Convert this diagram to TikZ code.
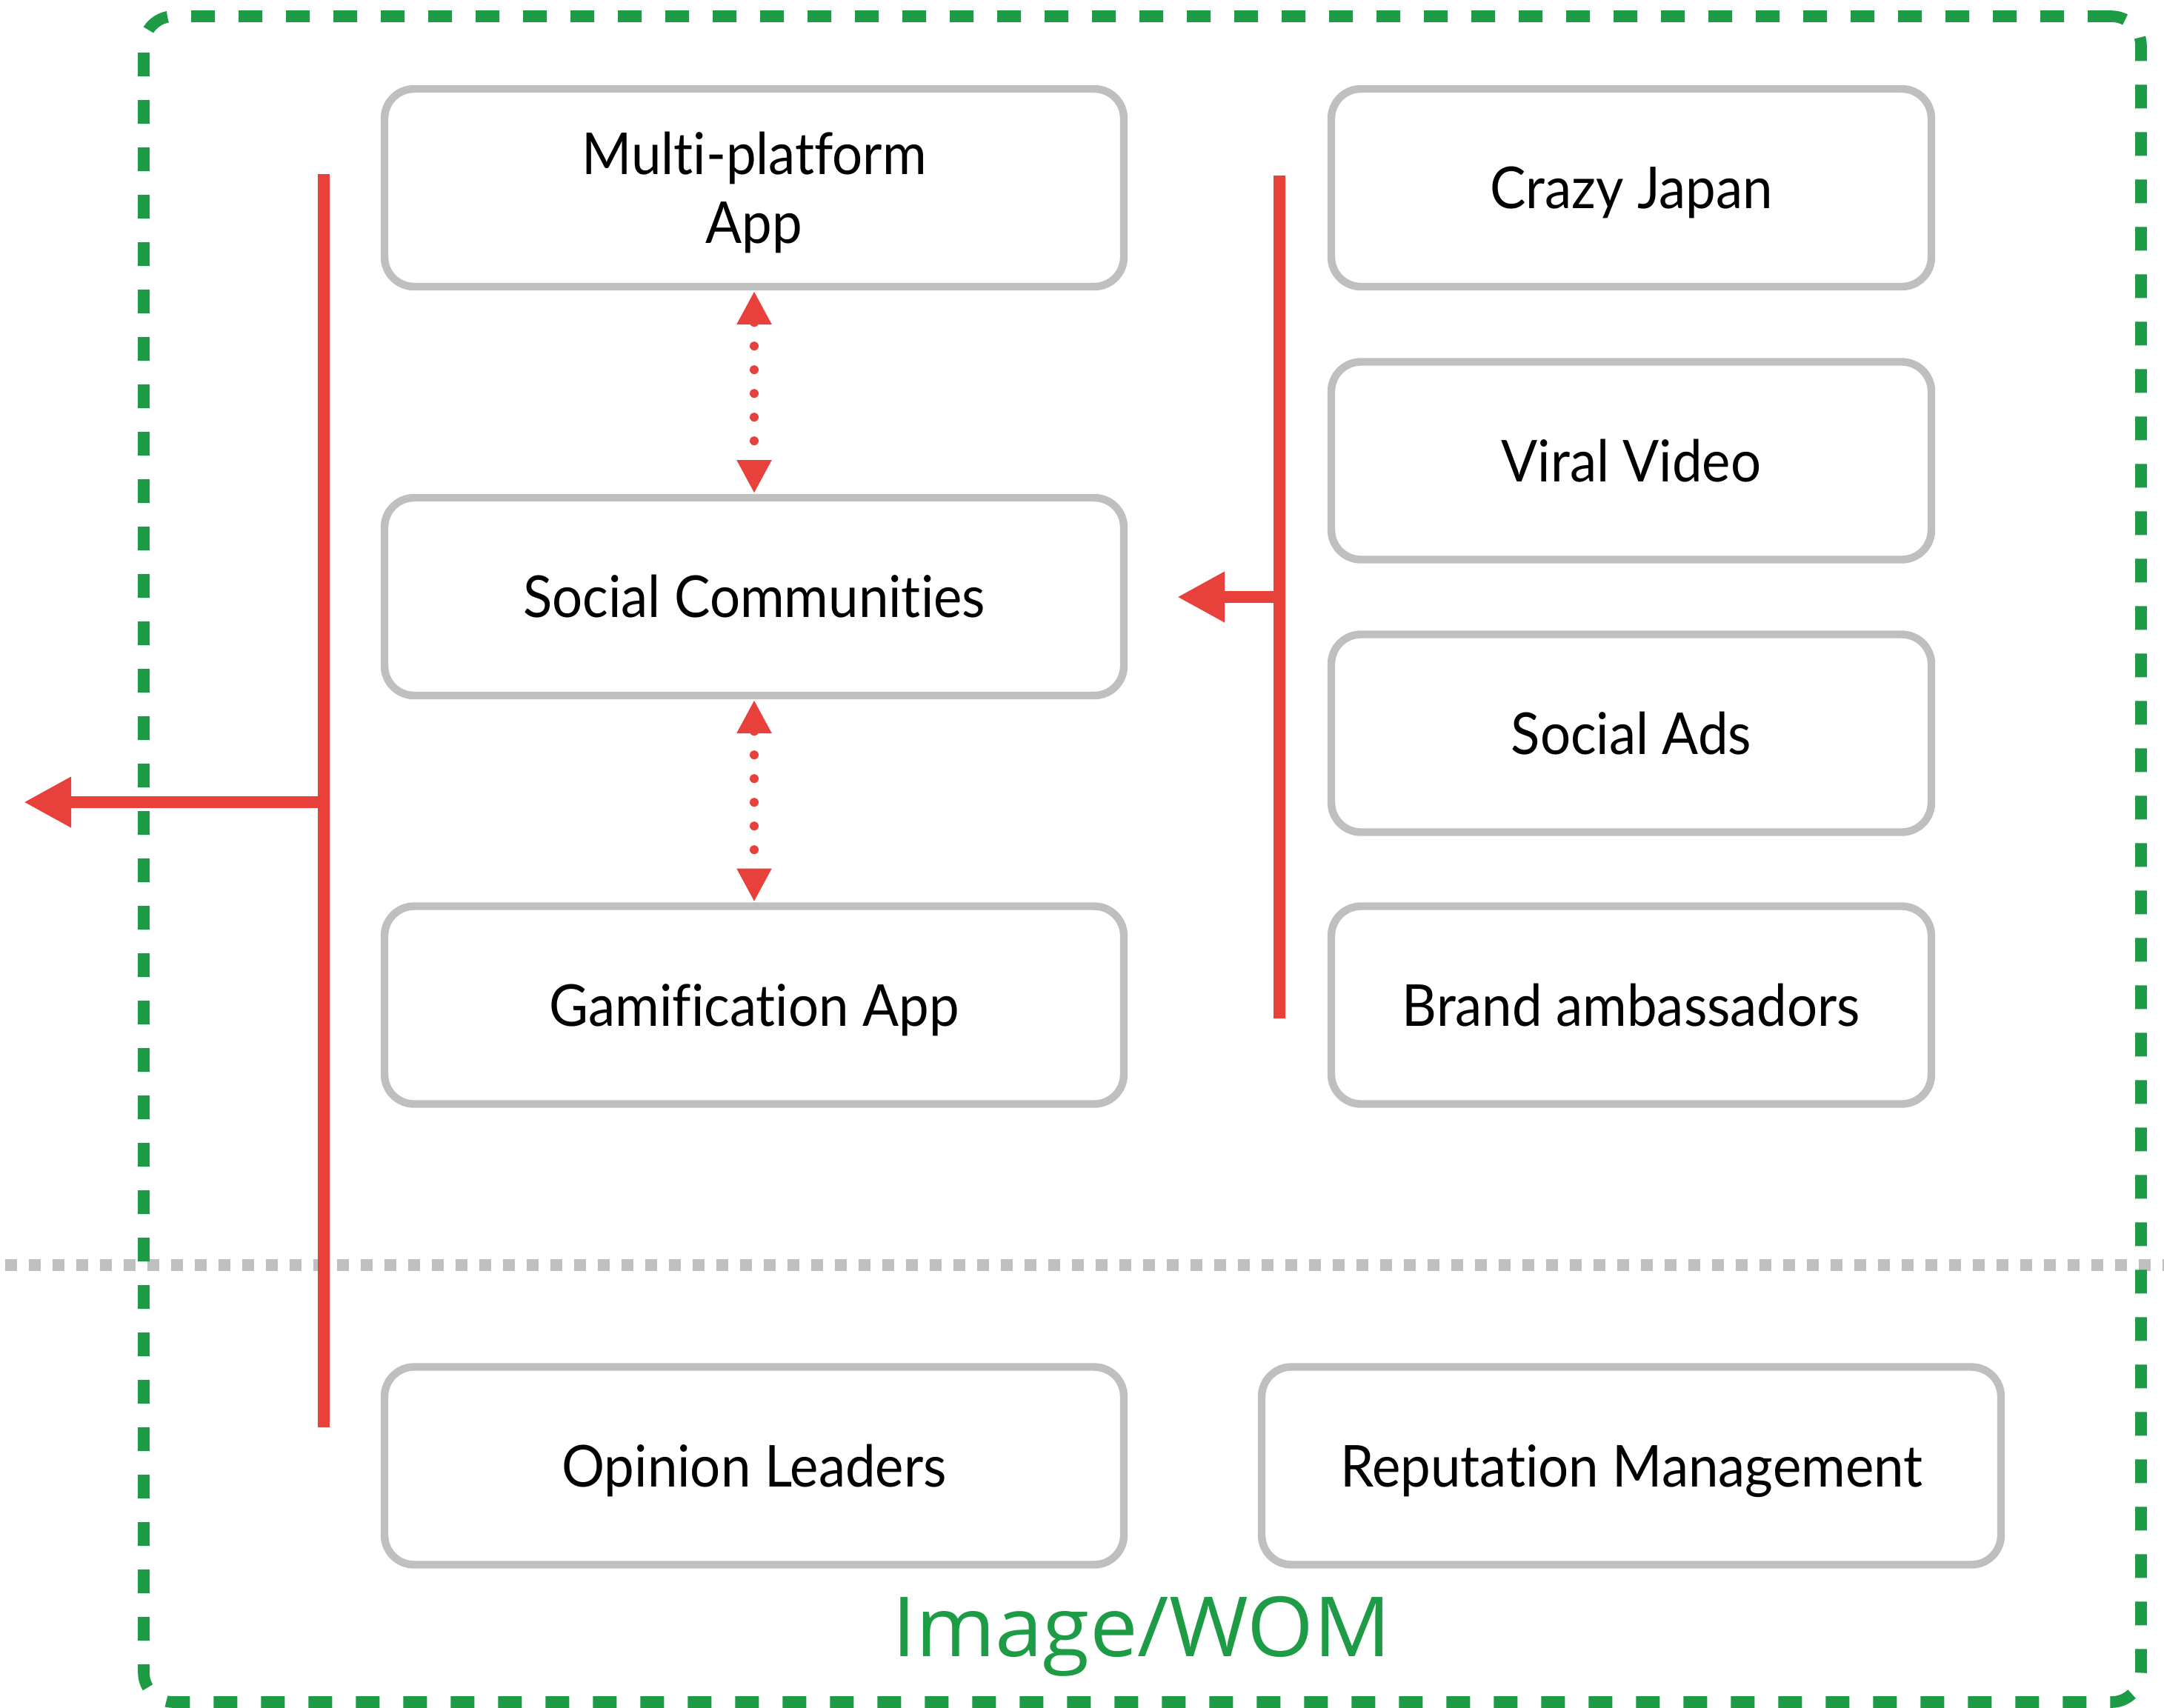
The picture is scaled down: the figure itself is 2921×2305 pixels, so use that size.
\documentclass[tikz,border=0pt]{standalone}
\usepackage{fontspec}
\setmainfont[FakeStretch=0.93, Ligatures=NoCommon]{Lato}
\newfontfamily\labelfont[FakeStretch=1.03]{Open Sans}
\usetikzlibrary{arrows.meta}
\definecolor{wred}{HTML}{E8403A}
\definecolor{wgreen}{HTML}{1E9B45}
\definecolor{wgray}{HTML}{BEBFC1}
\begin{document}
\begin{tikzpicture}[x=0.25pt,y=-0.25pt,
  box/.style={draw=wgray, line width=2.6pt, rounded corners=10pt, minimum height=66.75pt,
    inner sep=0pt, outer sep=0pt, font=\fontsize{19.5}{23.25}\selectfont,
    text height=14pt, text depth=0pt},
  lbox/.style={box, minimum width=249.5pt},
  rbox/.style={box, minimum width=202.5pt},
  bar/.style={wred, line width=4pt},
  bigarrow/.style={bar, -{Triangle[length=16pt,width=16pt]}},
  dotarrow/.style={wred, line width=3pt, line cap=round, dash pattern=on 0pt off 8pt,
    {Triangle[length=11.25pt,width=11pt]}-{Triangle[length=11.25pt,width=11pt]}},
  divider/.style={wgray, line width=4pt, dash pattern=on 4pt off 4pt},
  frame/.style={draw=wgreen, line width=3.9pt, rounded corners=10pt, dash pattern=on 8pt off 8pt,
    minimum width=674pt, minimum height=569pt, inner sep=0pt, outer sep=0pt},
]
\useasboundingbox (0,0) rectangle (2921,2305);

% divider
\coordinate (dl) at (7,1708);
\coordinate (dr) at (2921,1708);
\draw[divider] (dl) -- (dr);

% red brackets
\coordinate (lt) at (437,235);
\coordinate (lb) at (437,1927);
\coordinate (lj) at (437,1083);
\coordinate (la) at (32,1083);
\coordinate (rt) at (1727,237);
\coordinate (rb) at (1727,1375);
\coordinate (rj) at (1727,806);
\coordinate (ra) at (1589,806);
\draw[bar] (lt) -- (lb);
\draw[bigarrow] (lj) -- (la);
\draw[bar] (rt) -- (rb);
\draw[bigarrow] (rj) -- (ra);

% green frame
\node[frame] (frame) at (1542,1160) {};

% boxes
\node[lbox, text depth=23.25pt] (mpa) at (1018,253.5)
  {\begin{tabular}[t]{@{}c@{}}Multi-platform\\App\end{tabular}};
\node[lbox] (soc) at (1018,805.5) {Social Communities};
\node[lbox] (gam) at (1018,1357) {Gamification App};
\node[lbox] (opl) at (1018,1979) {Opinion Leaders};
\node[rbox] (crz) at (2202,253.5) {Crazy Japan};
\node[rbox] (vir) at (2202,622) {Viral Video};
\node[rbox] (sad) at (2202,990) {Social Ads};
\node[rbox] (bra) at (2202,1357) {Brand ambassadors};
\node[lbox] (rep) at (2202,1979) {Reputation Management};

% dotted double arrows
\draw[dotarrow] ([yshift=-1.5pt]mpa.south) -- ([yshift=1.5pt]soc.north);
\draw[dotarrow] ([yshift=-1.5pt]soc.south) -- ([yshift=1.5pt]gam.north);

% label
\node[font=\labelfont\fontsize{28}{30}\selectfont, text=wgreen, anchor=base] (lab) at (1541,2236) {Image/WOM};
\end{tikzpicture}
\end{document}
